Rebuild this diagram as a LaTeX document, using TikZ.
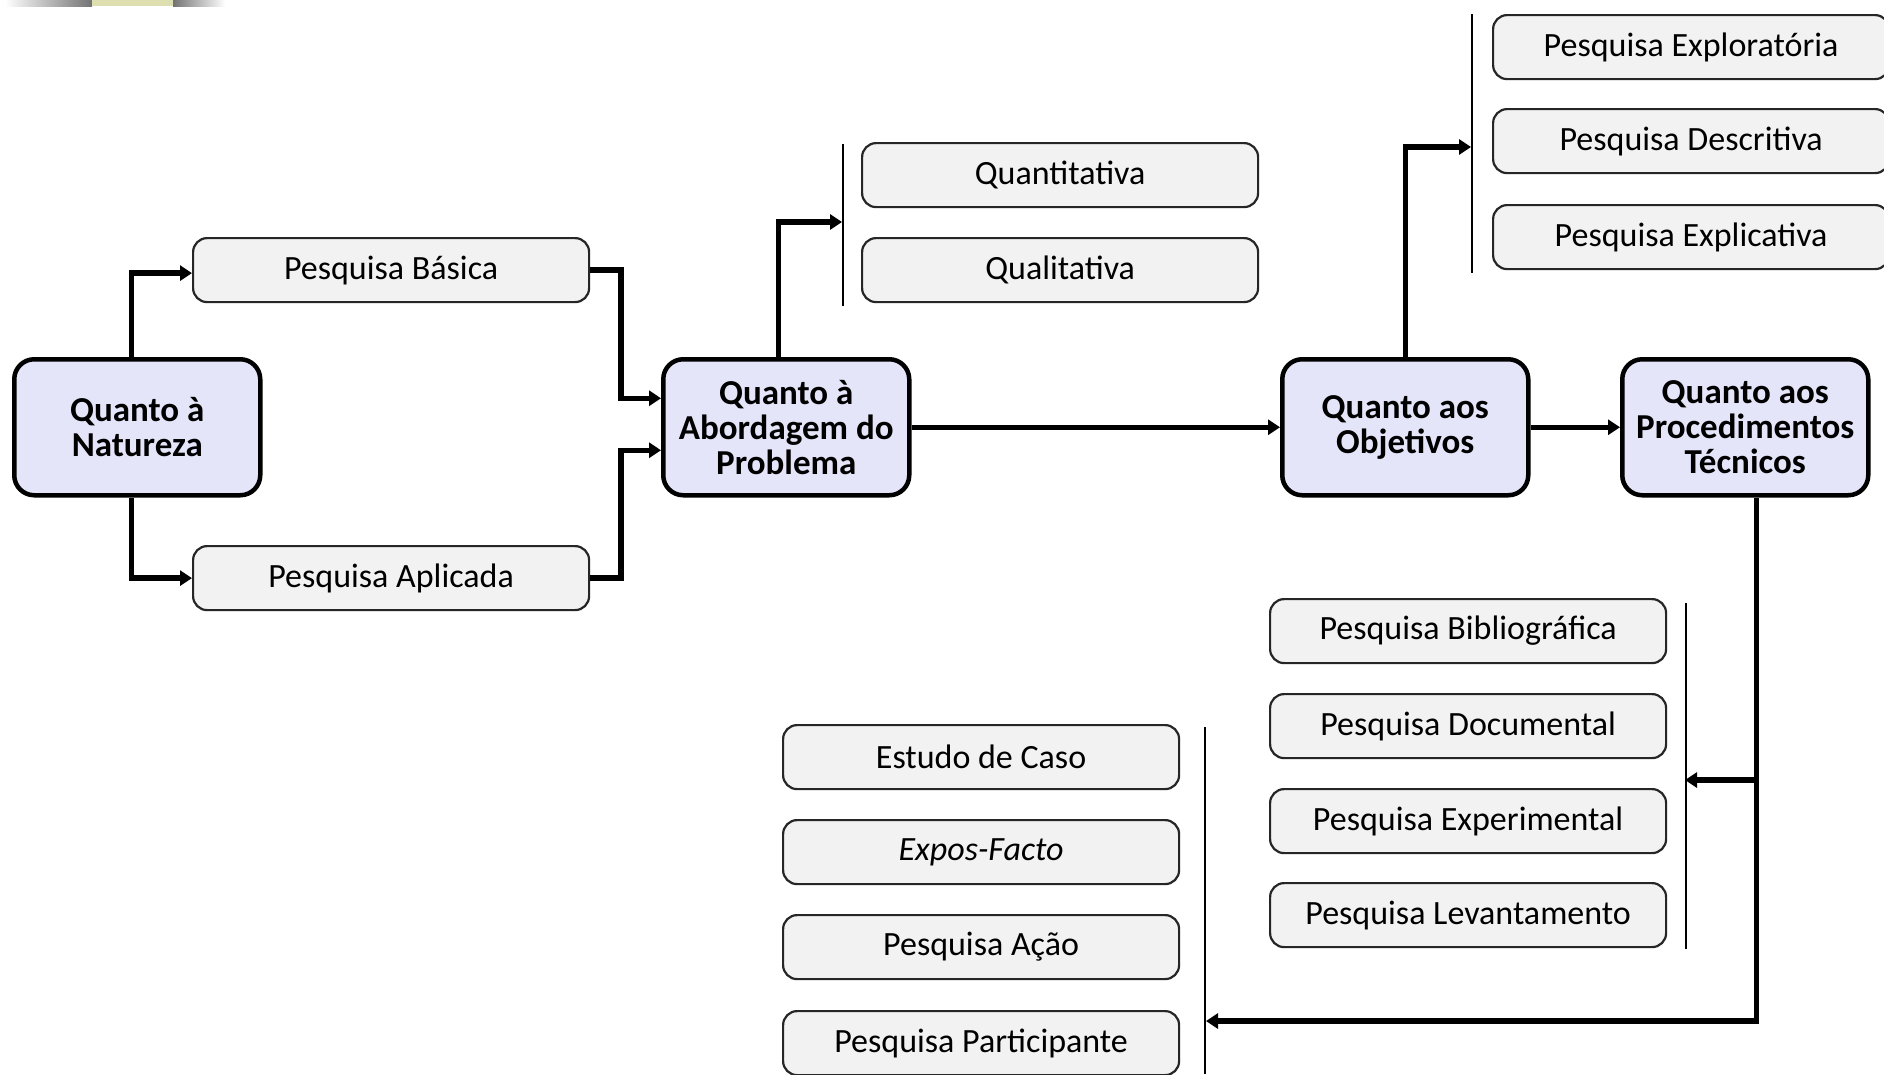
\documentclass[tikz,border=0pt]{standalone}
\usepackage{fontspec}
\setmainfont{Carlito}
\usetikzlibrary{arrows.meta}
\definecolor{mainfill}{HTML}{E5E5FA}
\definecolor{subfill}{HTML}{F2F2F2}
\definecolor{decoyellow}{HTML}{DEDFB0}
\begin{document}
\begin{tikzpicture}[x=1pt,y=-1pt,
  sbox/.style={draw=black!85,line width=2.2pt,fill=subfill,rounded corners=14pt,
    minimum width=396pt,minimum height=64pt,anchor=north west,inner sep=0pt,
    font=\fontsize{34}{36}\selectfont},
  mbox/.style={draw=black,line width=4.5pt,fill=mainfill,rounded corners=20pt,
    minimum width=246pt,minimum height=136pt,anchor=north west,inner sep=0pt,
    align=center,font=\bfseries\fontsize{35}{35}\selectfont},
  conn/.style={line width=5.5pt,-{Triangle[length=12pt,width=15pt]}},
  bar/.style={line width=2.5pt}
]
\useasboundingbox (0,0) rectangle (1884,1074);
\fill[white] (0,0) rectangle (1884,1074);
% top-left decoration
\shade[left color=white,right color=black!55] (5,0) rectangle (92,6);
\fill[decoyellow] (92,0) rectangle (173,6);
\shade[left color=black!55,right color=white] (173,0) rectangle (225,6);

% main boxes
\node[mbox] (nat) at (12,357) {Quanto à\\Natureza};
\node[mbox] (abord) at (661,357) {Quanto à\\Abordagem do\\Problema};
\node[mbox] (obj) at (1280,357) {Quanto aos\\Objetivos};
\node[mbox] (proc) at (1620,357) {Quanto aos\\Procedimentos\\Técnicos};

% natureza
\node[sbox] (basica) at (192,237) {Pesquisa Básica};
\node[sbox] (aplicada) at (192,545) {Pesquisa Aplicada};

% abordagem
\node[sbox] (quanti) at (861,142) {Quantitativa};
\node[sbox] (quali) at (861,237) {Qualitativa};

% objetivos
\node[sbox] (explor) at (1492,14) {Pesquisa Exploratória};
\node[sbox] (descr) at (1492,108) {Pesquisa Descritiva};
\node[sbox] (explic) at (1492,204) {Pesquisa Explicativa};

% procedimentos
\node[sbox] (biblio) at (1269,598) {Pesquisa Bibliográfica};
\node[sbox] (docum) at (1269,693) {Pesquisa Documental};
\node[sbox] (experim) at (1269,788) {Pesquisa Experimental};
\node[sbox] (levant) at (1269,882) {Pesquisa Levantamento};

\node[sbox] (caso) at (782,724) {Estudo de Caso};
\node[sbox] (expos) at (782,819) {\itshape Expos-Facto};
\node[sbox] (acao) at (782,914) {Pesquisa Ação};
\node[sbox] (partic) at (782,1010) {Pesquisa Participante};

% bracket bars
\draw[bar] (843,144) -- (843,306);
\draw[bar] (1472,14) -- (1472,273);
\draw[bar] (1686,603) -- (1686,949);
\draw[bar] (1205,727) -- (1205,1074);

\coordinate (qa) at (842,222);
\coordinate (qb) at (1471,147);
\coordinate (pc) at (1685,780);
\coordinate (pd) at (1206,1021);

% connectors
\draw[conn] ([xshift=-6pt]nat.north) |- ([yshift=-3pt]basica.west);
\draw[conn] ([xshift=-6pt]nat.south) |- (aplicada.west);
\draw[conn] (basica.east) -- ++(31,0) |- ([yshift=29pt]abord.west);
\draw[conn] (aplicada.east) -- ++(31,0) |- ([yshift=-23pt]abord.west);
\draw[conn] (abord.east) -- (obj.west);
\draw[conn] (obj.east) -- (proc.west);
\draw[conn] ([xshift=-8pt]abord.north) |- (qa);
\draw[conn] (obj.north) |- (qb);
\draw[conn] ([xshift=11pt]proc.south) |- (pd);
\draw[conn] ([xshift=11pt]proc.south |- pc) -- (pc);
\end{tikzpicture}
\end{document}
